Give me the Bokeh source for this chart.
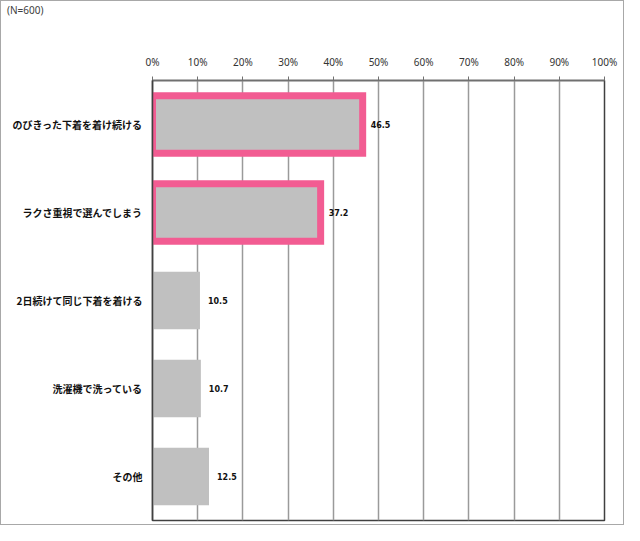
from bokeh.plotting import figure
from bokeh.models import ColumnDataSource, FactorRange, FixedTicker, Div
from bokeh.layouts import column
from bokeh.core.properties import value
from bokeh.embed import file_html
from bokeh.resources import INLINE

categories = ["のびきった下着を着け続ける", "ラクさ重視で選んでしまう", "2日続けて同じ下着を着ける", "洗濯機で洗っている", "その他"]
values = [46.5, 37.2, 10.5, 10.7, 12.5]
highlight = [True, True, False, False, False]
value_labels = ["46.5", "37.2", "10.5", "10.7", "12.5"]
tick_values = [0, 10, 20, 30, 40, 50, 60, 70, 80, 90, 100]
title_text = "(N=600)"

PINK = "#F25C92"
GRAY = "#C0C0C0"

src = ColumnDataSource(dict(
    cat=categories,
    val=values,
    lab=value_labels,
    lc=[PINK if h else None for h in highlight],
    lw=[7 if h else 0 for h in highlight],
))

p = figure(
    width=622, height=503,
    y_range=FactorRange(*list(reversed(categories))),
    x_range=(0, 100),
    x_axis_location="above",
    output_backend="svg", toolbar_location=None,
    min_border_left=151, min_border_right=19, min_border_top=59, min_border_bottom=4,
)
p.background_fill_color = "white"
p.border_fill_color = "white"
p.outline_line_color = "#404040"
p.outline_line_width = 1.5

p.hbar(y="cat", left=0, right="val", height=0.655, source=src,
       fill_color=GRAY, line_color="lc", line_width="lw", line_join="miter")

p.text(x="val", y="cat", text="lab", source=src, x_offset=8,
       text_font=value("DejaVu Sans"), text_font_size="8px", text_font_style="bold",
       text_color="#111111", text_align="left", text_baseline="middle")

# x axis on top
xa = p.xaxis[0]
xa.ticker = FixedTicker(ticks=tick_values)
xa.major_label_overrides = {t: f"{t}%" for t in tick_values}
xa.major_label_text_font = "Noto Sans"
xa.major_label_text_font_size = "10px"
xa.major_label_text_color = "#333333"
xa.major_label_standoff = 8
xa.major_tick_out = 4
xa.major_tick_in = 0
xa.minor_tick_out = 0
xa.minor_tick_in = 0
xa.axis_line_color = "#707070"
xa.axis_line_width = 1.5
xa.major_tick_line_color = "#707070"

ya = p.yaxis[0]
ya.major_label_text_font = "Noto Sans CJK JP"
ya.major_label_text_font_size = "10px"
ya.major_label_text_font_style = "bold"
ya.major_label_text_color = "#111111"
ya.major_label_standoff = 10
ya.major_tick_out = 0
ya.major_tick_in = 0
ya.axis_line_color = "#404040"
ya.axis_line_width = 1.5

p.xgrid.ticker = FixedTicker(ticks=tick_values[1:-1])
p.xgrid.grid_line_color = "#9a9a9a"
p.xgrid.grid_line_width = 1.5
p.ygrid.grid_line_color = None

div = Div(text=title_text, width=622, height=20, margin=0,
          styles={"font-family": "Noto Sans", "font-size": "10px", "color": "#404040",
                  "padding-left": "6px", "padding-top": "3px", "line-height": "12px",
                  "background": "white", "box-sizing": "border-box"})

layout = column(div, p, spacing=0)
layout.styles = {"border": "1px solid #a8a8a8", "background": "white"}

open("out.html", "w").write(file_html(layout, INLINE))
